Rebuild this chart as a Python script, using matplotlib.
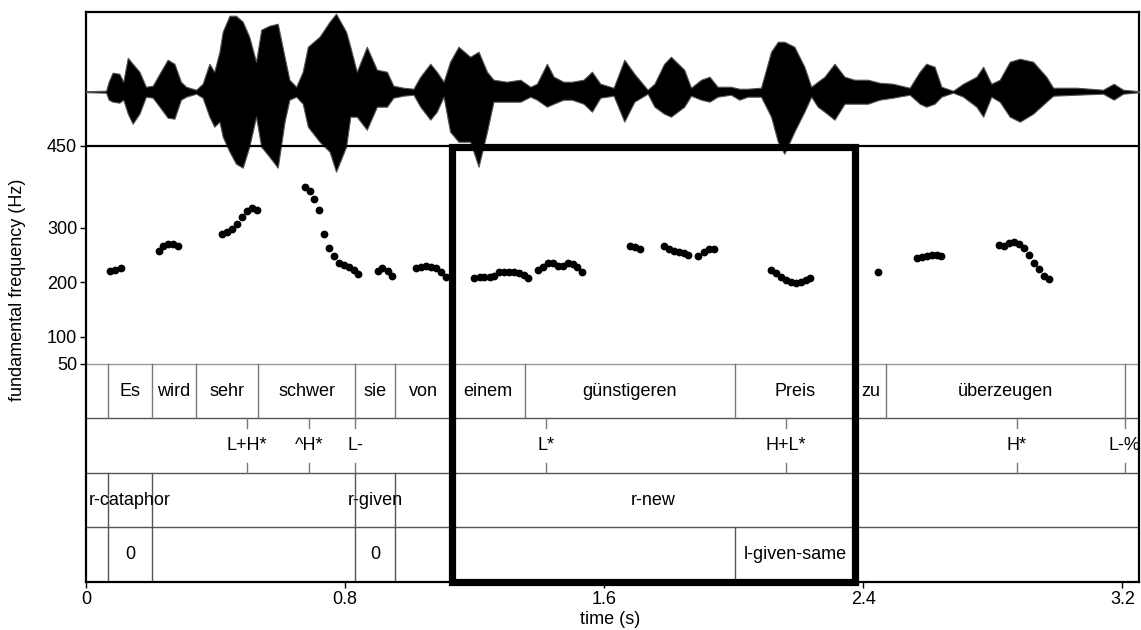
import numpy as np
import matplotlib
matplotlib.use('Agg')
import matplotlib.pyplot as plt
from matplotlib.patches import Rectangle

plt.rcParams['font.family'] = ['Liberation Sans', 'DejaVu Sans']

# waveform envelope (time s, amplitude in px above / below the centre line)
wave_t = [0.000, 0.062, 0.070, 0.082, 0.103, 0.115, 0.129, 0.144, 0.165, 0.185, 0.206, 0.227,
          0.252, 0.273, 0.293, 0.309, 0.340, 0.360, 0.381, 0.396, 0.412, 0.422, 0.443, 0.463,
          0.484, 0.504, 0.525, 0.541, 0.566, 0.592, 0.613, 0.628, 0.649, 0.669, 0.685, 0.721,
          0.752, 0.772, 0.803, 0.816, 0.836, 0.867, 0.898, 0.929, 0.949, 0.980, 1.011, 1.032,
          1.063, 1.083, 1.104, 1.124, 1.150, 1.186, 1.212, 1.238, 1.258, 1.299, 1.341, 1.372,
          1.392, 1.423, 1.444, 1.474, 1.500, 1.536, 1.562, 1.588, 1.629, 1.662, 1.693, 1.734,
          1.755, 1.785, 1.806, 1.847, 1.868, 1.899, 1.925, 1.950, 1.991, 2.017, 2.043, 2.084,
          2.115, 2.136, 2.156, 2.187, 2.218, 2.239, 2.259, 2.280, 2.311, 2.342, 2.372, 2.414,
          2.450, 2.491, 2.543, 2.574, 2.594, 2.620, 2.641, 2.677, 2.708, 2.749, 2.770, 2.795,
          2.821, 2.852, 2.883, 2.924, 2.965, 2.986, 3.058, 3.140, 3.173, 3.202, 3.252]
wave_top = [0.5, 1, 10, 19, 18, 10, 34, 28, 20, 5, 6, 18,
            32, 28, 10, 5, 2, 8, 28, 20, 40, 60, 76, 76,
            70, 55, 30, 62, 66, 68, 35, 12, 5, 20, 45, 55,
            70, 78, 60, 45, 20, 45, 22, 20, 6, 4, 3, 15,
            28, 20, 10, 30, 45, 35, 40, 20, 12, 10, 12, 5,
            8, 28, 15, 10, 10, 12, 20, 8, 4, 32, 18, 2,
            8, 28, 35, 22, 4, 12, 15, 5, 5, 3, 3, 4,
            40, 50, 50, 45, 25, 5, 10, 15, 28, 15, 12, 12,
            9, 8, 4, 20, 28, 25, 5, 1, 8, 15, 25, 8,
            12, 30, 33, 30, 15, 4, 4, 2, 8, 2, 0.5]
wave_bot = [0.5, 1, 8, 10, 11, 8, 22, 32, 22, 5, 6, 15,
            26, 27, 8, 5, 2, 6, 25, 35, 30, 45, 60, 72,
            76, 55, 25, 55, 65, 76, 30, 8, 5, 12, 35, 50,
            60, 80, 55, 25, 25, 38, 15, 15, 6, 4, 3, 15,
            28, 20, 5, 40, 50, 50, 75, 40, 10, 10, 10, 5,
            8, 15, 12, 8, 8, 12, 20, 6, 4, 30, 10, 2,
            15, 22, 25, 15, 4, 8, 10, 5, 3, 8, 5, 5,
            25, 50, 62, 40, 20, 5, 15, 20, 28, 12, 12, 12,
            8, 6, 3, 12, 15, 12, 5, 1, 5, 15, 25, 5,
            10, 25, 30, 22, 10, 4, 3, 2, 8, 2, 0.5]

# pitch track
f0_t = [0.074, 0.090, 0.107,
        0.225, 0.239, 0.254, 0.270, 0.285,
        0.421, 0.436, 0.452, 0.465, 0.481, 0.496, 0.512, 0.527,
        0.676, 0.692, 0.705, 0.720, 0.735, 0.751, 0.766, 0.781, 0.797, 0.812, 0.828, 0.841,
        0.900, 0.915, 0.931, 0.946,
        1.019, 1.034, 1.049, 1.065, 1.080, 1.096, 1.111,
        1.199, 1.215, 1.230, 1.246, 1.260, 1.276, 1.291, 1.307, 1.322, 1.337, 1.351, 1.366,
        1.395, 1.411, 1.426, 1.442, 1.457, 1.473, 1.488, 1.504, 1.516, 1.531,
        1.680, 1.696, 1.711,
        1.785, 1.801, 1.816, 1.832, 1.847, 1.860,
        1.891, 1.907, 1.922, 1.938,
        2.115, 2.130, 2.146, 2.161, 2.177, 2.192, 2.208, 2.223, 2.236,
        2.445,
        2.566, 2.581, 2.597, 2.612, 2.628, 2.641,
        2.820, 2.835, 2.851, 2.866, 2.882, 2.895, 2.911, 2.926, 2.942, 2.957, 2.972]
f0_hz = [220.6, 222.5, 226.7,
         257.3, 266.5, 270.2, 270.2, 266.5,
         288.5, 292.8, 298.3, 306.9, 320.3, 331.3, 336.2, 332.6,
         374.2, 366.9, 352.2, 332.0, 288.0, 262.3, 248.2, 234.8, 231.7, 228.5, 222.5, 215.1,
         220.1, 225.6, 221.2, 212.0,
         225.6, 228.0, 229.2, 228.0, 225.6, 219.4, 210.2,
         207.2, 209.6, 210.2, 210.2, 211.5, 218.8, 219.4, 219.4, 218.8, 216.3, 213.3, 207.2,
         222.5, 228.6, 234.8, 234.8, 229.8, 229.8, 234.8, 233.5, 227.4, 218.2,
         265.9, 265.2, 260.4,
         265.9, 260.4, 257.3, 255.5, 253.1, 249.4,
         248.7, 256.1, 260.4, 260.4,
         222.5, 216.3, 210.2, 204.1, 199.9, 198.1, 201.0, 204.1, 207.2,
         219.4,
         244.0, 247.0, 248.2, 249.4, 249.4, 248.7,
         268.9, 267.1, 271.4, 273.9, 270.2, 262.3, 250.0, 235.9, 224.3, 212.0, 206.5]

# tier 1: words
word_bounds = [0.0, 0.069, 0.203, 0.340, 0.530, 0.832, 0.955, 1.130, 1.354, 2.003, 2.375, 2.470, 3.207, 3.252]
words = ['', 'Es', 'wird', 'sehr', 'schwer', 'sie', 'von', 'einem', 'günstigeren', 'Preis', 'zu', 'überzeugen', '']

# tier 2: tones (points)
tone_t = [0.498, 0.690, 0.832, 1.421, 2.162, 2.873, 3.207]
tones = ['L+H*', '^H*', 'L-', 'L*', 'H+L*', 'H*', 'L-%']

# tier 3: referential status
ref_start = [0.069, 0.832, 1.130]
ref_end = [0.203, 0.955, 2.375]
ref_lab = ['r-cataphor', 'r-given', 'r-new']

# tier 4: lexical givenness
lex_start = [0.069, 0.832, 2.003]
lex_end = [0.203, 0.955, 2.375]
lex_lab = ['0', '0', 'l-given-same']

tmax = 3.252
px = 0.545          # pixels per Hz unit on the figure
wave_mid = 549.6
fs = 13

fig = plt.figure(figsize=(11.41, 6.30), dpi=100)
ax = fig.add_axes([86/1141, 1-582/630, (1139.3-86)/1141, (582-11.7)/630])
ax.set_xlim(0, tmax)
ax.set_ylim(-350, 696.4)

# waveform
wt = np.array(wave_t)
ax.fill_between(wt, wave_mid + np.array(wave_top)/px, wave_mid - np.array(wave_bot)/px,
                facecolor='black', edgecolor='#555555', lw=0.8, zorder=3)

# frame lines
ax.axhline(450, color='black', lw=1.6, zorder=4)
ax.axhline(50, color='#999999', lw=1.0, zorder=2)
for y in [-50, -150, -250]:
    ax.axhline(y, color='#555555', lw=1.0, zorder=2)

# pitch
ax.plot(f0_t, f0_hz, 'o', color='black', ms=4.6, zorder=5)

# tier 1
for b in word_bounds[1:-1]:
    ax.plot([b, b], [50, -50], color='#777777', lw=1.0, zorder=2)
for i, w in enumerate(words):
    ax.text((word_bounds[i] + word_bounds[i+1]) / 2, 0, w, ha='center', va='center', fontsize=fs)

# tier 2
tick = 10/px
for t, lab in zip(tone_t, tones):
    ax.plot([t, t], [-50, -50 - tick], color='#777777', lw=1.0, zorder=2)
    ax.plot([t, t], [-150 + tick, -150], color='#777777', lw=1.0, zorder=2)
    ax.text(t, -100, lab, ha='center', va='center', fontsize=fs, clip_on=True)

# tier 3
for s, e, lab in zip(ref_start, ref_end, ref_lab):
    ax.plot([s, s], [-150, -250], color='#555555', lw=1.0, zorder=2)
    ax.plot([e, e], [-150, -250], color='#555555', lw=1.0, zorder=2)
    ax.text((s + e) / 2, -200, lab, ha='center', va='center', fontsize=fs)

# tier 4
for s, e, lab in zip(lex_start, lex_end, lex_lab):
    ax.plot([s, s], [-250, -350], color='#555555', lw=1.0, zorder=2)
    ax.plot([e, e], [-250, -350], color='#555555', lw=1.0, zorder=2)
    ax.text((s + e) / 2, -300, lab, ha='center', va='center', fontsize=fs)

# highlight box
ax.add_patch(Rectangle((1.130, -350), 2.375 - 1.130, 448 + 350, fill=False,
                       ec='black', lw=5.2, zorder=6, clip_on=False))

for sp in ax.spines.values():
    sp.set_linewidth(1.6)
ax.set_yticks([50, 100, 200, 300, 450])
ax.set_yticklabels(['50', '100', '200', '300', '450'])
ax.set_xticks([0, 0.8, 1.6, 2.4, 3.2])
ax.set_xticklabels(['0', '0.8', '1.6', '2.4', '3.2'])
ax.tick_params(direction='out', length=4.3, width=1.0, labelsize=fs, pad=2)
fig.text(18/1141, 1-290/630, 'fundamental frequency (Hz)', rotation=90, ha='center', va='center', fontsize=fs)
fig.text(610/1141, 1-620/630, 'time (s)', ha='center', va='center', fontsize=fs)

fig.savefig('out.png', dpi=100)
